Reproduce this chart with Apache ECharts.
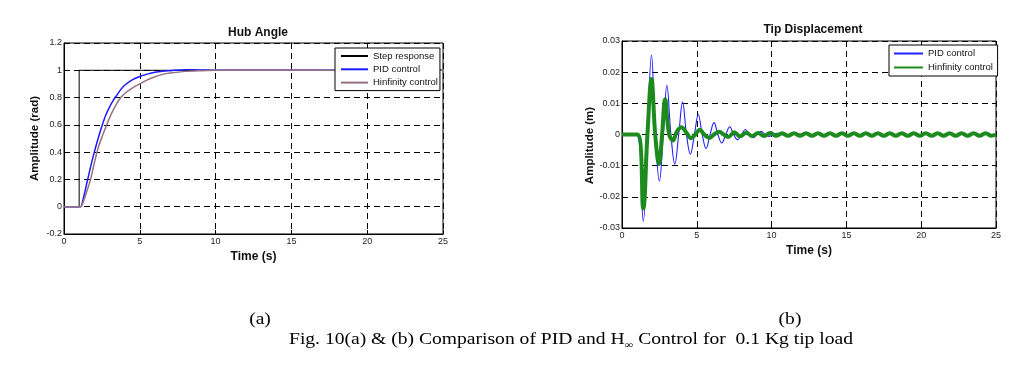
<!DOCTYPE html>
<html><head><meta charset="utf-8">
<script src="https://cdn.jsdelivr.net/npm/echarts@6/dist/echarts.min.js"></script>
<style>html,body{margin:0;padding:0;background:#fff}#c{width:1032px;height:391px}</style>
</head><body><div id="c"></div>
<script>
// ---- Hub Angle (a) ----
const hubTime = [0,1,1.1,1.25,1.5,1.75,2,2.25,2.5,2.75,3,3.25,3.5,3.75,4,4.5,5,5.5,6,6.5,7,8,9,10,15,20,25];
const hubPID  = [0,0,0,0.05,0.17,0.29,0.40,0.50,0.59,0.67,0.73,0.78,0.82,0.86,0.89,0.93,0.955,0.972,0.985,0.993,0.997,1.004,1.003,1,1,1,1];
const hubHinf = [0,0,0,0.03,0.11,0.20,0.32,0.43,0.51,0.58,0.65,0.71,0.76,0.80,0.83,0.87,0.90,0.93,0.953,0.97,0.98,0.992,0.997,1,1,1,1];
const stepTime = [0,1,1,25];
const stepVal  = [0,0,1,1];

// ---- Tip Displacement (b) ----
const tipPIDTime = [0,0.95,1.42,1.7,1.97,2.23,2.5,2.76,3.0,3.27,3.53,3.79,4.05,4.31,4.57,4.84,5.1,5.36,5.62,5.89,6.15,6.41,6.67,6.94,7.2,7.46,7.72,7.99,8.25,8.51,8.77,9.04,9.3,9.56,9.82,10.35,10.9,11.5,12.5,25];
const tipPID = [0,0,-0.0278,0,0.0255,0,-0.015,0,0.0158,0,-0.0095,0,0.0104,0,-0.0063,0,0.0064,0,-0.0045,0,0.0038,0,-0.0027,0,0.0025,0,-0.0017,0,0.0016,0,-0.001,0,0.001,0,-0.0006,0.0004,-0.0003,0.0002,0,0];
const tipHinfTime = [0,1.05,1.42,1.7,1.97,2.22,2.47,2.68,2.88,3.15,3.42,3.65,3.97,4.3,4.62,4.9,5.2,5.5,5.85,6.15,6.5,6.8,7.1,
  7.5,7.9,8.3,8.7,9.1,9.5,9.9,
  10.3,10.7,11.1,11.5,11.9,12.3,12.7,13.1,13.5,13.9,14.3,14.7,15.1,15.5,15.9,16.3,16.7,17.1,17.5,17.9,18.3,18.7,19.1,19.5,19.9,20.3,20.7,21.1,21.5,21.9,22.3,22.7,23.1,23.5,23.9,24.3,24.7,25];
const tipHinf = [0,0,-0.0237,0,0.0178,0,-0.0095,0,0.0113,0,-0.0019,0.0008,0.0023,0.0006,-0.0012,0,0.0015,0,-0.0011,0,0.0009,0,-0.0008,
  0.0007,-0.0006,0.0006,-0.0005,0.0005,-0.0005,0.0005,
  -0.0004,0.0004,-0.0004,0.0004,-0.0004,0.0004,-0.0004,0.0004,-0.0004,0.0004,-0.0004,0.0004,-0.0004,0.0004,-0.0004,0.0004,-0.0004,0.0004,-0.0004,0.0004,-0.0004,0.0004,-0.0004,0.0004,-0.0004,0.0004,-0.0004,0.0004,-0.0004,0.0004,-0.0004,0.0004,-0.0004,0.0004,-0.0004,0.0004,-0.0004,0];

const titles = ['Hub Angle','Tip Displacement'];
const yNames = ['Amplitude (rad)','Amplitude (m)'];
const xName = 'Time (s)';
const capA = '(a)', capB = '(b)';
const capPart1 = 'Fig. 10(a) & (b) Comparison of PID and H';
const capSub = '\u221e';
const capPart2 = ' Control for  0.1 Kg tip load';

const zip = (t, v) => t.map((x, i) => [x, v[i]]);

const FS = 'Liberation Sans';
function xAx(gi) {
  return {
    type: 'value', gridIndex: gi, min: 0, max: 25, interval: 5,
    axisLine: {show: true, onZero: false, lineStyle: {color: '#000', width: 1}},
    axisTick: {inside: true, length: 4, lineStyle: {color: '#000'}},
    axisLabel: {fontSize: 9, color: '#222', margin: 3, fontFamily: FS},
    splitLine: {show: true, lineStyle: {color: '#000', type: [6, 4], width: 1}},
    name: xName, nameLocation: 'middle', nameGap: 17,
    nameTextStyle: {fontSize: 12, fontWeight: 'bold', color: '#111', fontFamily: FS}
  };
}
function yAx(gi, min, max, interval, name, pad) {
  return {
    type: 'value', gridIndex: gi, min, max, interval,
    axisLine: {show: true, onZero: false, lineStyle: {color: '#000', width: 1}},
    axisTick: {inside: true, length: 4, lineStyle: {color: '#000'}},
    axisLabel: {fontSize: 9, color: '#222', margin: 2, fontFamily: FS},
    splitLine: {show: true, lineStyle: {color: '#000', type: [6, 4], width: 1}},
    name, nameLocation: 'middle', nameGap: 23, nameRotate: 90,
    nameTextStyle: {fontSize: 11.5, fontWeight: 'bold', color: '#111', fontFamily: FS, padding: pad}
  };
}

// caption layout (measured, then stretched horizontally to the reference's width)
const capFont = '16px "Liberation Serif"';
const subFont = '10px "Liberation Serif"';
const ctx = document.createElement('canvas').getContext('2d');
ctx.font = capFont;
const w1 = ctx.measureText(capPart1).width;
const w2 = ctx.measureText(capPart2).width;
ctx.font = subFont;
const wSub = ctx.measureText(capSub).width;
const capX = 289, capEnd = 853;
const sx = (capEnd - capX) / (w1 + wSub + w2);

const legendCommon = {
  orient: 'vertical', backgroundColor: '#fff', borderColor: '#000', borderWidth: 1,
  itemHeight: 10, itemStyle: {opacity: 0},
  textStyle: {fontSize: 9.5, color: '#111', fontFamily: FS}
};

const chart = echarts.init(document.getElementById('c'), null, {renderer: 'canvas'});
chart.setOption({
  animation: false,
  backgroundColor: '#fff',
  title: [
    {text: titles[0], left: 253, top: 22, textAlign: 'center', textStyle: {fontSize: 12, fontWeight: 'bold', color: '#111', fontFamily: FS}},
    {text: titles[1], left: 808, top: 19, textAlign: 'center', textStyle: {fontSize: 12, fontWeight: 'bold', color: '#111', fontFamily: FS}}
  ],
  grid: [
    {left: 64, top: 43, width: 379, height: 191, show: true, borderColor: '#000', borderWidth: 1, backgroundColor: 'transparent'},
    {left: 622, top: 41, width: 374, height: 187, show: true, borderColor: '#000', borderWidth: 1, backgroundColor: 'transparent'}
  ],
  xAxis: [xAx(0), xAx(1)],
  yAxis: [yAx(0, -0.2, 1.2, 0.2, yNames[0], 0), yAx(1, -0.03, 0.03, 0.01, yNames[1], [0, 22, 0, 0])],
  legend: [
    Object.assign({}, legendCommon, {data: ['Step response', 'PID control', 'Hinfinity control'], left: 335, top: 48,
      padding: [3, 2, 3, 5], itemGap: 3.3, itemWidth: 27}),
    Object.assign({}, legendCommon, {data: ['PID control ', 'Hinfinity control '], left: 889, top: 45,
      padding: [3.5, 2, 3.5, 4], itemGap: 4, itemWidth: 29})
  ],
  series: [
    {name: 'Step response', type: 'line', xAxisIndex: 0, yAxisIndex: 0, data: zip(stepTime, stepVal),
     symbol: 'none', lineStyle: {color: '#000', width: 1}, itemStyle: {color: '#000'}},
    {name: 'PID control', type: 'line', xAxisIndex: 0, yAxisIndex: 0, data: zip(hubTime, hubPID), smooth: 0.3,
     symbol: 'none', lineStyle: {color: '#1a1aff', width: 1.5}, itemStyle: {color: '#1a1aff'}},
    {name: 'Hinfinity control', type: 'line', xAxisIndex: 0, yAxisIndex: 0, data: zip(hubTime, hubHinf), smooth: 0.3,
     symbol: 'none', lineStyle: {color: '#957080', width: 1.5}, itemStyle: {color: '#957080'}},
    {name: 'PID control ', type: 'line', xAxisIndex: 1, yAxisIndex: 1, data: zip(tipPIDTime, tipPID), smooth: 0.4,
     symbol: 'none', lineStyle: {color: '#2020ff', width: 1.1}, itemStyle: {color: '#2020ff'}},
    {name: 'Hinfinity control ', type: 'line', xAxisIndex: 1, yAxisIndex: 1, data: zip(tipHinfTime, tipHinf), smooth: 0.4,
     symbol: 'none', lineStyle: {color: '#1d8a1d', width: 4}, itemStyle: {color: '#1d8a1d'}}
  ],
  graphic: [
    {type: 'text', x: 260, y: 320, scaleX: sx, style: {text: capA, font: capFont, fill: '#000', align: 'center', verticalAlign: 'middle'}},
    {type: 'text', x: 790, y: 320, scaleX: sx, style: {text: capB, font: capFont, fill: '#000', align: 'center', verticalAlign: 'middle'}},
    {type: 'text', x: capX, y: 340, scaleX: sx, style: {text: capPart1, font: capFont, fill: '#000', align: 'left', verticalAlign: 'middle'}},
    {type: 'text', x: capX + w1 * sx, y: 345, scaleX: sx, style: {text: capSub, font: subFont, fill: '#000', align: 'left', verticalAlign: 'middle'}},
    {type: 'text', x: capX + (w1 + wSub) * sx, y: 340, scaleX: sx, style: {text: capPart2, font: capFont, fill: '#000', align: 'left', verticalAlign: 'middle'}}
  ]
});
</script>
</body></html>
